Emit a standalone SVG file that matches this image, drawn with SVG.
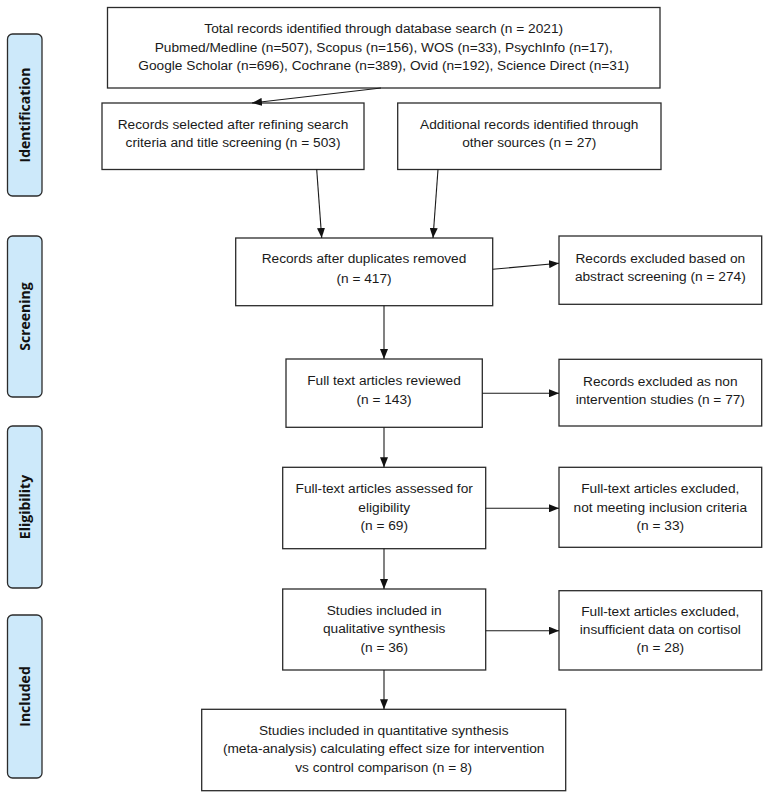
<svg xmlns="http://www.w3.org/2000/svg" width="767" height="795" viewBox="0 0 767 795">
<style>
.box{fill:#fff;stroke:#2b2b2b;stroke-width:1.3}
.side{fill:#cde9fa;stroke:#2b2b2b;stroke-width:1.3}
.t{font-family:"Liberation Sans",Arial,sans-serif;font-size:13.7px;fill:#1a1a1a;text-anchor:middle}
.s{font-family:"Open Sans","Liberation Sans",sans-serif;font-size:14px;font-weight:bold;fill:#111;text-anchor:middle;dominant-baseline:central}
.c{stroke:#1a1a1a;stroke-width:1.1;fill:none;marker-end:url(#ah)}
</style>
<defs>
<marker id="ah" markerUnits="userSpaceOnUse" markerWidth="10" markerHeight="8" refX="10" refY="4" orient="auto" viewBox="0 0 10 8">
<path d="M0,0 L10,4 L0,8 z" fill="#111"/>
</marker>
</defs>
<rect width="767" height="795" fill="#fff"/>
<g id="side-identification"><rect class="side" x="7.5" y="34" width="34.5" height="162" rx="5"/><text class="s" transform="translate(24.8,115) rotate(-90)">Identification</text></g>
<g id="side-screening"><rect class="side" x="7.5" y="236" width="34.5" height="161" rx="5"/><text class="s" transform="translate(24.8,316.5) rotate(-90)">Screening</text></g>
<g id="side-eligibility"><rect class="side" x="7.5" y="426" width="34.5" height="162" rx="5"/><text class="s" transform="translate(24.8,507) rotate(-90)">Eligibility</text></g>
<g id="side-included"><rect class="side" x="7.5" y="615" width="34.5" height="163" rx="5"/><text class="s" transform="translate(24.8,696.5) rotate(-90)">Included</text></g>

<g id="n-total"><rect class="box" x="107.5" y="7.5" width="552.5" height="80.5"/>
<text class="t" x="383.7" y="33">Total records identified through database search (n = 2021)</text>
<text class="t" x="383.7" y="51.5">Pubmed/Medline (n=507), Scopus (n=156), WOS (n=33), PsychInfo (n=17),</text>
<text class="t" x="383.7" y="70">Google Scholar (n=696), Cochrane (n=389), Ovid (n=192), Science Direct (n=31)</text></g>
<g id="n-selected"><rect class="box" x="102" y="103" width="262" height="66.5"/>
<text class="t" x="233" y="128.5">Records selected after refining search</text>
<text class="t" x="233" y="147">criteria and title screening (n = 503)</text></g>
<g id="n-additional"><rect class="box" x="397.7" y="103" width="263.3" height="66.5"/>
<text class="t" x="529.3" y="128.5">Additional records identified through</text>
<text class="t" x="529.3" y="147">other sources (n = 27)</text></g>
<g id="n-duplicates"><rect class="box" x="235.7" y="238" width="257" height="67.7"/>
<text class="t" x="364" y="263">Records after duplicates removed</text>
<text class="t" x="364" y="283">(n = 417)</text></g>
<g id="n-abstract"><rect class="box" x="559" y="236" width="202.7" height="68.3"/>
<text class="t" x="660.3" y="262.7">Records excluded based on</text>
<text class="t" x="660.3" y="281">abstract screening (n = 274)</text></g>
<g id="n-fulltext"><rect class="box" x="286" y="359" width="196.3" height="68.3"/>
<text class="t" x="384" y="385">Full text articles reviewed</text>
<text class="t" x="384" y="404">(n = 143)</text></g>
<g id="n-nonintervention"><rect class="box" x="559" y="359.3" width="202.7" height="66.7"/>
<text class="t" x="660.3" y="385.7">Records excluded as non</text>
<text class="t" x="660.3" y="404">intervention studies (n = 77)</text></g>
<g id="n-eligibility"><rect class="box" x="282.7" y="467.3" width="203" height="81.4"/>
<text class="t" x="384.2" y="493.3">Full-text articles assessed for</text>
<text class="t" x="384.2" y="511.7">eligibility</text>
<text class="t" x="384.2" y="530">(n = 69)</text></g>
<g id="n-notmeeting"><rect class="box" x="559" y="467.3" width="202.7" height="80"/>
<text class="t" x="660.3" y="493.3">Full-text articles excluded,</text>
<text class="t" x="660.3" y="511.7">not meeting inclusion criteria</text>
<text class="t" x="660.3" y="530">(n = 33)</text></g>
<g id="n-qualitative"><rect class="box" x="282.7" y="589" width="203" height="81"/>
<text class="t" x="384.2" y="615">Studies included in</text>
<text class="t" x="384.2" y="633.3">qualitative synthesis</text>
<text class="t" x="384.2" y="651.7">(n = 36)</text></g>
<g id="n-insufficient"><rect class="box" x="559" y="590.7" width="202.7" height="79.3"/>
<text class="t" x="660.3" y="615.7">Full-text articles excluded,</text>
<text class="t" x="660.3" y="634">insufficient data on cortisol</text>
<text class="t" x="660.3" y="652.3">(n = 28)</text></g>
<g id="n-quantitative"><rect class="box" x="201.7" y="709.3" width="364" height="81.4"/>
<text class="t" x="383.7" y="735">Studies included in quantitative synthesis</text>
<text class="t" x="383.7" y="753.3">(meta-analysis) calculating effect size for intervention</text>
<text class="t" x="383.7" y="771.7">vs control comparison (n = 8)</text></g>

<g id="connectors">
<line class="c" x1="381" y1="88" x2="252" y2="103"/>
<line class="c" x1="316.7" y1="169.5" x2="321.7" y2="238"/>
<line class="c" x1="438" y1="169.5" x2="433" y2="238"/>
<line class="c" x1="492.7" y1="269.3" x2="559" y2="263.3"/>
<line class="c" x1="384" y1="305.7" x2="384" y2="359"/>
<line class="c" x1="482.3" y1="393.3" x2="559" y2="393.3"/>
<line class="c" x1="384" y1="427.3" x2="384" y2="467.3"/>
<line class="c" x1="485.7" y1="508.3" x2="559" y2="508.3"/>
<line class="c" x1="384" y1="548.7" x2="384" y2="589"/>
<line class="c" x1="485.7" y1="630.7" x2="559" y2="630.7"/>
<line class="c" x1="384" y1="670" x2="384" y2="709.3"/>
</g>
</svg>
